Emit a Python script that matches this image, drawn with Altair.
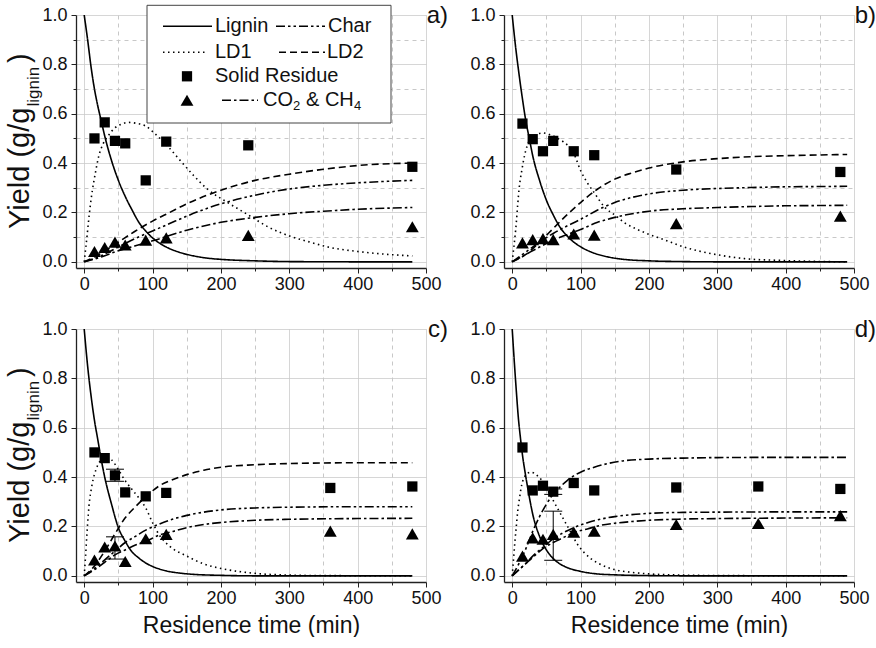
import altair as alt
import pandas as pd

FONT = "Liberation Sans"
W, H = 350, 253
X_DOMAIN = [-12, 500]
Y_DOMAIN = [-0.025, 1.0]
SQ_SIZE = 105
TRI_SIZE = 165

# ---------------- panel a ----------------
a_lignin_t = [0, 5, 10, 15, 20, 25, 30, 40, 50, 60, 70, 80, 90, 100, 120, 140, 160, 180, 200, 250, 300, 400, 480]
a_lignin_v = [1.0, 0.90, 0.79, 0.70, 0.63, 0.57, 0.51, 0.41, 0.33, 0.265, 0.21, 0.16, 0.125, 0.097, 0.06, 0.038, 0.024, 0.015, 0.01, 0.004, 0.001, 0.0, 0.0]
a_ld1_t = [0, 2, 4, 6, 9, 12, 16, 21, 28, 35, 45, 55, 65, 75, 90, 105, 120, 140, 160, 180, 210, 240, 270, 300, 330, 360, 400, 440, 480]
a_ld1_v = [0.0, 0.05, 0.10, 0.155, 0.23, 0.29, 0.355, 0.425, 0.48, 0.51, 0.543, 0.558, 0.565, 0.562, 0.55, 0.515, 0.475, 0.412, 0.35, 0.295, 0.24, 0.19, 0.14, 0.105, 0.08, 0.058, 0.042, 0.031, 0.024]
a_ld2_t = [0, 25, 50, 75, 100, 125, 150, 200, 250, 300, 350, 400, 450, 480]
a_ld2_v = [0.0, 0.035, 0.08, 0.125, 0.165, 0.2, 0.235, 0.29, 0.33, 0.355, 0.375, 0.39, 0.398, 0.40]
a_char_t = [0, 25, 50, 75, 100, 125, 150, 200, 250, 300, 350, 400, 450, 480]
a_char_v = [0.0, 0.025, 0.06, 0.095, 0.125, 0.155, 0.185, 0.235, 0.27, 0.295, 0.31, 0.32, 0.327, 0.33]
a_gas_t = [0, 25, 50, 75, 100, 150, 200, 250, 300, 350, 400, 450, 480]
a_gas_v = [0.0, 0.02, 0.045, 0.065, 0.085, 0.128, 0.16, 0.18, 0.195, 0.205, 0.213, 0.218, 0.22]
a_solid_t = [15, 30, 45, 60, 90, 120, 240, 480]
a_solid_v = [0.50, 0.565, 0.49, 0.48, 0.33, 0.487, 0.472, 0.385]
a_gasp_t = [15, 30, 45, 60, 90, 120, 240, 480]
a_gasp_v = [0.042, 0.058, 0.08, 0.068, 0.088, 0.097, 0.107, 0.142]

# ---------------- panel b ----------------
b_lignin_t = [0, 5, 10, 15, 20, 25, 30, 40, 50, 60, 70, 80, 90, 100, 120, 140, 160, 200, 250, 300, 400, 490]
b_lignin_v = [1.0, 0.87, 0.76, 0.66, 0.57, 0.50, 0.43, 0.33, 0.25, 0.19, 0.14, 0.106, 0.08, 0.061, 0.035, 0.02, 0.011, 0.004, 0.001, 0.0, 0.0, 0.0]
b_ld1_t = [0, 2, 4, 6, 8, 10, 14, 18, 25, 35, 45, 55, 70, 80, 90, 100, 110, 120, 135, 150, 165, 180, 195, 222, 250, 290, 340, 390, 440, 490]
b_ld1_v = [0.0, 0.05, 0.10, 0.158, 0.23, 0.293, 0.37, 0.43, 0.49, 0.515, 0.522, 0.515, 0.495, 0.475, 0.44, 0.37, 0.32, 0.28, 0.222, 0.19, 0.157, 0.135, 0.117, 0.09, 0.061, 0.034, 0.013, 0.006, 0.002, 0.0]
b_ld2_t = [0, 20, 40, 60, 80, 100, 125, 150, 175, 200, 250, 300, 350, 400, 450, 490]
b_ld2_v = [0.0, 0.03, 0.08, 0.135, 0.19, 0.24, 0.295, 0.335, 0.36, 0.38, 0.405, 0.418, 0.426, 0.43, 0.433, 0.435]
b_char_t = [0, 20, 40, 60, 80, 100, 125, 150, 200, 250, 300, 350, 400, 450, 490]
b_char_v = [0.0, 0.04, 0.08, 0.115, 0.145, 0.172, 0.21, 0.24, 0.275, 0.29, 0.297, 0.301, 0.304, 0.305, 0.306]
b_gas_t = [0, 20, 40, 60, 80, 100, 125, 150, 200, 250, 300, 350, 400, 450, 490]
b_gas_v = [0.0, 0.03, 0.06, 0.088, 0.11, 0.131, 0.16, 0.18, 0.205, 0.215, 0.22, 0.224, 0.227, 0.228, 0.229]
b_solid_t = [15, 30, 45, 60, 90, 120, 240, 480]
b_solid_v = [0.56, 0.497, 0.448, 0.49, 0.448, 0.432, 0.374, 0.364]
b_gasp_t = [15, 30, 45, 60, 90, 120, 240, 480]
b_gasp_v = [0.077, 0.09, 0.094, 0.09, 0.113, 0.108, 0.155, 0.185]

# ---------------- panel c ----------------
c_lignin_t = [0, 5, 10, 15, 20, 25, 30, 40, 50, 60, 70, 80, 90, 100, 120, 140, 160, 200, 250, 300, 480]
c_lignin_v = [1.0, 0.85, 0.73, 0.63, 0.55, 0.47, 0.40, 0.29, 0.195, 0.14, 0.097, 0.072, 0.052, 0.038, 0.02, 0.011, 0.006, 0.002, 0.0, 0.0, 0.0]
c_ld1_t = [0, 2, 4, 6, 8, 10, 13, 16, 20, 25, 30, 35, 40, 50, 60, 70, 80, 90, 100, 110, 125, 150, 175, 200, 250, 300, 350, 480]
c_ld1_v = [0.0, 0.08, 0.17, 0.25, 0.31, 0.345, 0.39, 0.42, 0.45, 0.47, 0.48, 0.478, 0.47, 0.43, 0.385, 0.35, 0.315, 0.275, 0.215, 0.165, 0.12, 0.08, 0.048, 0.03, 0.01, 0.003, 0.001, 0.0]
c_ld2_t = [0, 15, 30, 45, 60, 75, 90, 110, 130, 150, 175, 200, 250, 300, 400, 480]
c_ld2_v = [0.0, 0.04, 0.1, 0.17, 0.235, 0.28, 0.32, 0.365, 0.39, 0.41, 0.428, 0.44, 0.45, 0.455, 0.458, 0.458]
c_char_t = [0, 15, 30, 45, 60, 75, 90, 110, 130, 150, 175, 200, 250, 300, 400, 480]
c_char_v = [0.0, 0.03, 0.065, 0.1, 0.135, 0.16, 0.185, 0.21, 0.23, 0.245, 0.258, 0.267, 0.275, 0.278, 0.28, 0.28]
c_gas_t = [0, 15, 30, 45, 60, 75, 90, 110, 130, 150, 175, 200, 250, 300, 400, 480]
c_gas_v = [0.0, 0.025, 0.055, 0.085, 0.105, 0.125, 0.14, 0.165, 0.18, 0.195, 0.208, 0.216, 0.225, 0.229, 0.232, 0.233]
c_solid_t = [15, 30, 45, 60, 90, 120, 360, 480]
c_solid_v = [0.50, 0.477, 0.407, 0.338, 0.322, 0.336, 0.356, 0.362]
c_gasp_t = [15, 30, 45, 60, 90, 120, 360, 480]
c_gasp_v = [0.064, 0.117, 0.121, 0.058, 0.15, 0.168, 0.181, 0.17]
c_err_t = [45, 45]
c_err_lo = [0.383, 0.068]
c_err_hi = [0.432, 0.158]

# ---------------- panel d ----------------
d_lignin_t = [0, 3, 6, 9, 12, 15, 20, 25, 30, 40, 50, 60, 70, 80, 100, 120, 150, 200, 250, 490]
d_lignin_v = [1.0, 0.87, 0.75, 0.64, 0.56, 0.49, 0.40, 0.32, 0.25, 0.16, 0.105, 0.07, 0.048, 0.034, 0.018, 0.009, 0.004, 0.001, 0.0, 0.0]
d_ld1_t = [0, 2, 4, 6, 8, 11, 14, 18, 22, 28, 35, 45, 55, 65, 75, 85, 95, 105, 115, 130, 150, 175, 200, 250, 300, 490]
d_ld1_v = [0.0, 0.07, 0.14, 0.2, 0.26, 0.32, 0.37, 0.40, 0.415, 0.42, 0.41, 0.38, 0.33, 0.28, 0.23, 0.18, 0.13, 0.095, 0.07, 0.045, 0.025, 0.014, 0.008, 0.003, 0.001, 0.0]
d_ld2_t = [0, 10, 20, 30, 40, 50, 60, 70, 80, 90, 100, 120, 140, 160, 200, 250, 300, 400, 490]
d_ld2_v = [0.0, 0.05, 0.11, 0.18, 0.24, 0.29, 0.33, 0.36, 0.385, 0.405, 0.42, 0.44, 0.455, 0.465, 0.473, 0.477, 0.479, 0.48, 0.48]
d_char_t = [0, 10, 20, 30, 45, 60, 75, 90, 110, 130, 150, 175, 200, 250, 300, 400, 490]
d_char_v = [0.0, 0.025, 0.05, 0.08, 0.115, 0.15, 0.175, 0.195, 0.215, 0.23, 0.24, 0.248, 0.253, 0.257, 0.258, 0.259, 0.259]
d_gas_t = [0, 10, 20, 30, 45, 60, 75, 90, 110, 130, 150, 175, 200, 250, 300, 400, 490]
d_gas_v = [0.0, 0.025, 0.05, 0.075, 0.11, 0.135, 0.155, 0.175, 0.19, 0.205, 0.213, 0.22, 0.225, 0.23, 0.232, 0.234, 0.235]
d_solid_t = [15, 30, 45, 60, 90, 120, 240, 360, 480]
d_solid_v = [0.52, 0.346, 0.365, 0.341, 0.376, 0.346, 0.358, 0.362, 0.352]
d_gasp_t = [15, 30, 45, 60, 90, 120, 240, 360, 480]
d_gasp_v = [0.08, 0.154, 0.148, 0.168, 0.177, 0.181, 0.208, 0.212, 0.244]
d_err_t = [60, 60]
d_err_lo = [0.33, 0.063]
d_err_hi = [0.352, 0.262]

X_TICKS = list(range(0, 501, 50))
Y_TICKS = [round(i * 0.1, 1) for i in range(11)]

DASH_DOMAIN = ["solid", "dot", "dash", "dashdot", "dashdotdot"]
DASH_RANGE = [[1, 0], [1.5, 3.5], [7, 4], [9, 3, 2.5, 3], [9, 3, 2.5, 3, 2.5, 3]]
DASH = dict(zip(DASH_DOMAIN, DASH_RANGE))

ONE = pd.DataFrame({"k": [0]})


def lines_frame(series):
    rows = []
    for name, style, ts, vs in series:
        for t, v in zip(ts, vs):
            rows.append({"series": name, "style": style, "t": t, "v": v})
    return pd.DataFrame(rows)


def pts_frame(ts, vs):
    return pd.DataFrame({"t": ts, "v": vs})


def x_enc(field, title):
    common = dict(
        values=X_TICKS,
        labelExpr="datum.value % 100 == 0 ? format(datum.value, 'd') : ''",
        labelFont=FONT, labelFontSize=18, labelColor="#111111",
        labelPadding=2, labelFlush=False, labelOverlap=False,
        grid=True, gridColor="#c8c8c8", gridWidth=1,
        gridDash={"condition": {"test": "datum.value % 100 != 0", "value": [4, 4]}, "value": [1, 0]},
        tickSize={"condition": {"test": "datum.value % 100 == 0", "value": 5}, "value": 3},
        tickColor="#222222", tickWidth=1,
        domainColor="#222222", domainWidth=1.3,
    )
    if title:
        ax = alt.Axis(title=title, titleFont=FONT, titleFontSize=23, titleFontWeight="normal",
                      titleColor="#111111", titlePadding=7, **common)
    else:
        ax = alt.Axis(title=None, **common)
    return alt.X(field, type="quantitative", scale=alt.Scale(domain=X_DOMAIN, nice=False, zero=False), axis=ax)


def y_enc(field):
    ax = alt.Axis(
        title=None, values=Y_TICKS,
        labelExpr="round(datum.value * 10) % 2 == 0 ? format(datum.value, '.1f') : ''",
        labelFont=FONT, labelFontSize=18, labelColor="#111111", labelPadding=4,
        labelOverlap=False, labelFlush=False,
        grid=True, gridColor="#c8c8c8", gridWidth=1,
        gridDash={"condition": {"test": "round(datum.value * 10) % 2 != 0", "value": [4, 4]}, "value": [1, 0]},
        tickSize={"condition": {"test": "round(datum.value * 10) % 2 == 0", "value": 5}, "value": 3},
        tickColor="#222222", tickWidth=1,
        domainColor="#222222", domainWidth=1.3,
    )
    return alt.Y(field, type="quantitative", scale=alt.Scale(domain=Y_DOMAIN, nice=False, zero=False), axis=ax)


def deco_text(x, y, s, size, align="left", baseline="middle", angle=0):
    props = dict(text=s, font=FONT, fontSize=size, color="#111111", align=align, baseline=baseline)
    if angle:
        props["angle"] = angle
    return alt.Chart(ONE).mark_text(**props).encode(x=alt.value(x), y=alt.value(y))


def deco_rule(x1, x2, y, dash):
    return alt.Chart(ONE).mark_rule(color="black", strokeWidth=1.6, strokeDash=DASH[dash]).encode(
        x=alt.value(x1), x2=alt.value(x2), y=alt.value(y))


def deco_symbol(x, y, shape, size):
    return alt.Chart(ONE).mark_point(shape=shape, filled=True, size=size, color="black", opacity=1).encode(
        x=alt.value(x), y=alt.value(y))


def legend_layers():
    layers = [
        alt.Chart(ONE).mark_rect(fill="white", stroke="#444444", strokeWidth=1).encode(
            x=alt.value(71), x2=alt.value(315), y=alt.value(-9.7), y2=alt.value(108)),
        deco_rule(87, 136, 11.3, "solid"), deco_text(139, 11.3, "Lignin", 20),
        deco_rule(200, 249, 11.3, "dashdotdot"), deco_text(252, 11.3, "Char", 20),
        deco_rule(87, 132, 37.3, "dot"), deco_text(139, 37.3, "LD1", 20),
        deco_rule(203, 249, 37.3, "dash"), deco_text(251, 37.3, "LD2", 20),
        deco_symbol(111, 61.3, "square", SQ_SIZE), deco_text(139, 61.3, "Solid Residue", 20),
        deco_symbol(111, 85.3, "triangle-up", TRI_SIZE), deco_rule(146, 182, 85.3, "dashdot"),
        deco_text(187, 85.3, "CO", 20), deco_text(217, 91.3, "2", 13),
        deco_text(230, 85.3, "& CH", 20), deco_text(278, 91.3, "4", 13),
    ]
    return layers


def ytitle_layers():
    return [
        deco_text(-47, 214, "Yield (g/g", 29, baseline="alphabetic", angle=270),
        deco_text(-37, 91.5, "lignin", 17, baseline="alphabetic", angle=270),
        deco_text(-47, 48, ")", 29, baseline="alphabetic", angle=270),
    ]


def panel(series, solid, gasp, label, xtitle, ytitle, legend=False, err=None):
    df = lines_frame(series)
    X = x_enc("t", xtitle)
    Y = y_enc("v")
    lines = alt.Chart(df).mark_line(color="black", strokeWidth=1.6, interpolate="monotone").encode(
        x=X, y=Y,
        strokeDash=alt.StrokeDash("style:N", scale=alt.Scale(domain=DASH_DOMAIN, range=DASH_RANGE), legend=None),
        detail="series:N",
    )
    sq = alt.Chart(pts_frame(*solid)).mark_point(shape="square", filled=True, size=SQ_SIZE, color="black", opacity=1).encode(x=X, y=Y)
    tri = alt.Chart(pts_frame(*gasp)).mark_point(shape="triangle-up", filled=True, size=TRI_SIZE, color="black", opacity=1).encode(x=X, y=Y)
    layers = [lines, sq, tri]
    if err is not None:
        et, elo, ehi = err
        edf = pd.DataFrame({"t": et, "lo": elo, "hi": ehi})
        layers.append(alt.Chart(edf).mark_rule(color="black", strokeWidth=1).encode(
            x=X, y=alt.Y("lo:Q"), y2="hi:Q"))
        layers.append(alt.Chart(edf).mark_tick(orient="horizontal", color="black", thickness=1, size=18, opacity=1).encode(
            x=X, y=alt.Y("lo:Q")))
        layers.append(alt.Chart(edf).mark_tick(orient="horizontal", color="black", thickness=1, size=18, opacity=1).encode(
            x=X, y=alt.Y("hi:Q")))
    if legend:
        layers += legend_layers()
    layers.append(deco_text(372, 7.5, label, 24, align="right", baseline="alphabetic"))
    if ytitle:
        layers += ytitle_layers()
    return alt.layer(*layers).properties(width=W, height=H)


pa = panel([("Lignin", "solid", a_lignin_t, a_lignin_v), ("LD1", "dot", a_ld1_t, a_ld1_v),
            ("LD2", "dash", a_ld2_t, a_ld2_v), ("Char", "dashdotdot", a_char_t, a_char_v),
            ("CO2 & CH4", "dashdot", a_gas_t, a_gas_v)],
           (a_solid_t, a_solid_v), (a_gasp_t, a_gasp_v), "a)", None, True, legend=True)
pb = panel([("Lignin", "solid", b_lignin_t, b_lignin_v), ("LD1", "dot", b_ld1_t, b_ld1_v),
            ("LD2", "dash", b_ld2_t, b_ld2_v), ("Char", "dashdotdot", b_char_t, b_char_v),
            ("CO2 & CH4", "dashdot", b_gas_t, b_gas_v)],
           (b_solid_t, b_solid_v), (b_gasp_t, b_gasp_v), "b)", None, False)
pc = panel([("Lignin", "solid", c_lignin_t, c_lignin_v), ("LD1", "dot", c_ld1_t, c_ld1_v),
            ("LD2", "dash", c_ld2_t, c_ld2_v), ("Char", "dashdotdot", c_char_t, c_char_v),
            ("CO2 & CH4", "dashdot", c_gas_t, c_gas_v)],
           (c_solid_t, c_solid_v), (c_gasp_t, c_gasp_v), "c)", "Residence time (min)", True,
           err=(c_err_t, c_err_lo, c_err_hi))
pd_ = panel([("Lignin", "solid", d_lignin_t, d_lignin_v), ("LD1", "dot", d_ld1_t, d_ld1_v),
             ("LD2", "dashdot", d_ld2_t, d_ld2_v), ("Char", "dashdotdot", d_char_t, d_char_v),
             ("CO2 & CH4", "dashdot", d_gas_t, d_gas_v)],
            (d_solid_t, d_solid_v), (d_gasp_t, d_gasp_v), "d)", "Residence time (min)", False,
            err=(d_err_t, d_err_lo, d_err_hi))

top = alt.hconcat(pa, pb, spacing=21)
bottom = alt.hconcat(pc, pd_, spacing=21)
chart = alt.vconcat(top, bottom, spacing=24).properties(
    padding={"left": 6, "top": 3, "right": 0, "bottom": 0}, background="white"
).configure_view(stroke=None)

chart.save("out.html", embed_options={"renderer": "svg", "actions": False})
